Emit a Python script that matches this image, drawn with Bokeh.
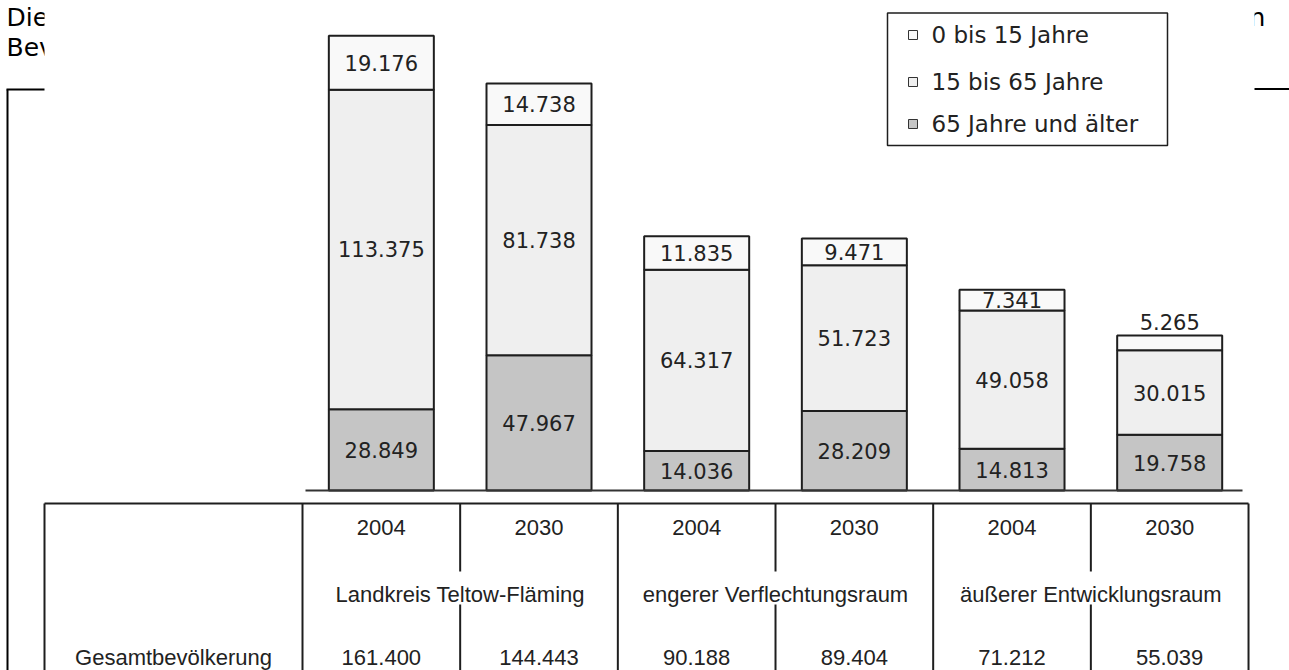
from bokeh.plotting import figure
from bokeh.models import Range1d
from bokeh.embed import file_html
from bokeh.resources import INLINE
from bokeh.core.properties import value

# ---------------- data ----------------
regions = ["Landkreis Teltow-Fläming", "engerer Verflechtungsraum", "äußerer Entwicklungsraum"]
years = ["2004", "2030", "2004", "2030", "2004", "2030"]
age_groups = ["0 bis 15 Jahre", "15 bis 65 Jahre", "65 Jahre und älter"]
age_0_15 = [19176, 14738, 11835, 9471, 7341, 5265]
age_15_65 = [113375, 81738, 64317, 51723, 49058, 30015]
age_65_plus = [28849, 47967, 14036, 28209, 14813, 19758]
totals = [161400, 144443, 90188, 89404, 71212, 55039]
row_label = "Gesamtbevölkerung"
page_text = ["Die", "Bev", "n"]

# ---------------- layout helpers ----------------
W, H = 1289, 670
PX_CAT = 157.67           # pixels per category column
PX_PERSON = 2.818 / 1000  # pixels per person


def X(r):
    return -0.5 + (r - 302) / PX_CAT


def Y(r):
    return (490 - r) / PX_PERSON


def de(n):
    return f"{n:,}".replace(",", ".")


C_TOP, C_MID, C_BOT = "#f9f9f9", "#efefef", "#c5c5c5"
INK = "#1e1e1e"
TXT = "#222222"

p = figure(width=W, height=H, x_range=Range1d(X(0), X(W)), y_range=Range1d(Y(H), Y(0)),
           output_backend="svg", toolbar_location=None, min_border=0,
           x_axis_location=None, y_axis_location=None, outline_line_color=None,
           background_fill_color="white", border_fill_color="white")
p.grid.visible = False

# ---------------- underlying page ----------------
p.text(x=[X(6), X(6), X(1249)], y=[Y(17), Y(47), Y(17)], text=page_text,
       text_font=value("DejaVu Sans"), text_font_size="25px", text_baseline="middle",
       text_color="#000000")
p.segment(x0=[X(7), X(6), X(1240)], y0=[Y(89), Y(89), Y(88.5)],
          x1=[X(7), X(60), X(1300)], y1=[Y(720), Y(89), Y(88.5)],
          line_color="#000000", line_width=2)

# chart image background covering the page
p.quad(left=[X(44)], right=[X(1254)], top=[Y(-20)], bottom=[Y(720)],
       fill_color="white", line_color=None)

# ---------------- stacked bars ----------------
idx = list(range(len(years)))
b0 = [0] * len(idx)
t0 = age_65_plus
t1 = [a + b for a, b in zip(t0, age_15_65)]
t2 = [a + b for a, b in zip(t1, age_0_15)]

BW = 0.666
p.vbar(x=idx, width=BW, bottom=b0, top=t0, fill_color=C_BOT, line_color=INK, line_width=2)
p.vbar(x=idx, width=BW, bottom=t0, top=t1, fill_color=C_MID, line_color=INK, line_width=2)
p.vbar(x=idx, width=BW, bottom=t1, top=t2, fill_color=C_TOP, line_color=INK, line_width=2)

# value labels
lx, ly, lt, lo = [], [], [], []
for series, bottoms in ((age_65_plus, b0), (age_15_65, t0), (age_0_15, t1)):
    for i, (v, b) in enumerate(zip(series, bottoms)):
        lx.append(i)
        lt.append(de(v))
        if v >= 6000:
            ly.append(b + v / 2)
            lo.append(0)
        else:
            ly.append(b + v)
            lo.append(-13)
p.text(x=lx, y=ly, text=lt, y_offset=lo, text_align="center", text_baseline="middle",
       text_font=value("DejaVu Sans"), text_font_size="21px", text_color=TXT)

# baseline
p.segment(x0=[X(305)], y0=[0], x1=[X(1242)], y1=[0], line_color="#333333", line_width=2)

# ---------------- legend ----------------
p.quad(left=[X(887)], right=[X(1167)], top=[Y(12.5)], bottom=[Y(145)],
       fill_color="white", line_color=INK, line_width=1.5)
leg_y = [Y(34.5), Y(81.5), Y(123.5)]
p.rect(x=[X(912.5)] * 3, y=leg_y, width=9, height=9, width_units="screen", height_units="screen",
       fill_color=[C_TOP, C_MID, C_BOT], line_color="#333333", line_width=1)
p.text(x=[X(931)] * 3, y=leg_y, text=age_groups, text_baseline="middle",
       text_font=value("DejaVu Sans"), text_font_size="23px", text_color=TXT)

# ---------------- table ----------------
x_left, x_right = X(44), len(idx) - 0.5
y_top, y_bot = Y(503), Y(720)
full_div = [-0.5, 1.5, 3.5]
part_div = [0.5, 2.5, 4.5]
sx0 = [x_left, x_left, x_right] + full_div + part_div + part_div
sy0 = [y_top, y_top, y_top] + [y_top] * 3 + [y_top] * 3 + [Y(604)] * 3
sx1 = [x_right, x_left, x_right] + full_div + part_div + part_div
sy1 = [y_top, y_bot, y_bot] + [y_bot] * 3 + [Y(571)] * 3 + [y_bot] * 3
p.segment(x0=sx0, y0=sy0, x1=sx1, y1=sy1, line_color=INK, line_width=2)

tfont = dict(text_font=value("Liberation Sans"), text_font_size="22px", text_color=TXT,
             text_baseline="middle", text_align="center")
p.text(x=idx, y=[Y(527)] * len(idx), text=years, **tfont)
p.text(x=part_div, y=[Y(594)] * 3, text=regions, **tfont)
p.text(x=[X(173)], y=[Y(657)], text=[row_label], **tfont)
p.text(x=idx, y=[Y(657)] * len(idx), text=[de(t) for t in totals], **tfont)

open("out.html", "w").write(file_html(p, INLINE))
